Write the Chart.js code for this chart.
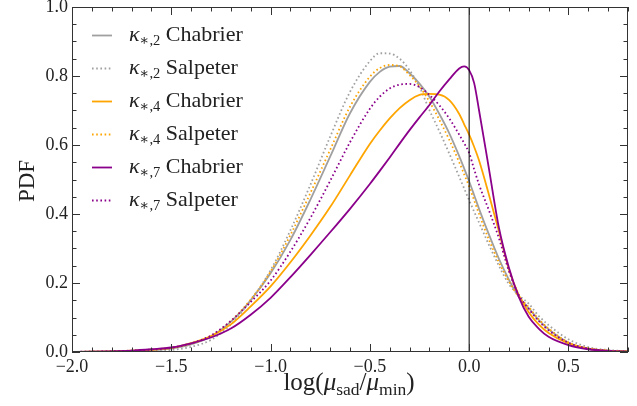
<!DOCTYPE html>
<html>
<head>
<meta charset="utf-8">
<script src="https://cdn.jsdelivr.net/npm/chart.js@4.4.1/dist/chart.umd.min.js"></script>
<style>
  html, body { margin: 0; padding: 0; background: #fff; }
  #wrap { position: relative; width: 637px; height: 406px; font-family: "Liberation Serif", "DejaVu Serif", serif; color: #222; }
  #c { position: absolute; left: 0; top: 0; }
  .leg { position: absolute; left: 129px; font-size: 22px; line-height: 24px; white-space: nowrap; }
  .leg sub { font-size: 0.66em; vertical-align: -0.3em; line-height: 0; }
  .xl sub { font-size: 0.7em; vertical-align: -0.3em; line-height: 0; }
  .xl { position: absolute; top: 368px; left: 0; width: 698px; text-align: center; font-size: 25px; line-height: 28px; white-space: nowrap; }
  .yl { position: absolute; left: 2px; top: 168px; font-size: 23px; line-height: 26px; transform: rotate(-90deg); transform-origin: center; width: 50px; text-align: center; }
</style>
</head>
<body>
<div id="wrap">
  <canvas id="c" width="637" height="406"></canvas>
  <div id="legend"></div>
  <div class="xl">log(<i>μ</i><sub>sad</sub>/<i>μ</i><sub>min</sub>)</div>
  <div class="yl">PDF</div>
</div>
<script>
// x grid of log(mu_sad/mu_min)
let xs = [-2.0, -1.9, -1.8, -1.7, -1.6, -1.5, -1.4, -1.3, -1.2, -1.1, -1.0, -0.9, -0.8, -0.7, -0.6, -0.5, -0.45, -0.4, -0.35, -0.3, -0.25, -0.2, -0.15, -0.1, -0.05, -0.025, 0, 0.025, 0.05, 0.1, 0.15, 0.2, 0.25, 0.3, 0.35, 0.4, 0.5, 0.6, 0.7, 0.8];

let k2Chabrier = [0.0005, 0.001, 0.0015, 0.003, 0.005, 0.01, 0.022, 0.045, 0.088, 0.15, 0.228, 0.325, 0.441, 0.566, 0.692, 0.783, 0.812, 0.827, 0.829, 0.808, 0.778, 0.74, 0.69, 0.634, 0.568, 0.532, 0.495, 0.455, 0.415, 0.34, 0.27, 0.21, 0.16, 0.127, 0.093, 0.066, 0.027, 0.009, 0.004, 0.001];
let k2Salpeter = [0.0002, 0.0004, 0.0008, 0.0015, 0.003, 0.006, 0.015, 0.035, 0.08, 0.15, 0.237, 0.353, 0.484, 0.624, 0.754, 0.843, 0.866, 0.865, 0.85, 0.817, 0.768, 0.701, 0.64, 0.575, 0.508, 0.474, 0.44, 0.407, 0.375, 0.31, 0.25, 0.197, 0.165, 0.14, 0.105, 0.078, 0.037, 0.014, 0.006, 0.002];
let k4Chabrier = [0.0005, 0.001, 0.002, 0.004, 0.007, 0.012, 0.026, 0.046, 0.08, 0.132, 0.19, 0.26, 0.337, 0.42, 0.512, 0.603, 0.642, 0.677, 0.707, 0.73, 0.745, 0.748, 0.746, 0.73, 0.69, 0.66, 0.63, 0.595, 0.555, 0.455, 0.35, 0.24, 0.165, 0.115, 0.08, 0.055, 0.025, 0.01, 0.004, 0.002];
let k4Salpeter = [0.0004, 0.0008, 0.0015, 0.003, 0.006, 0.012, 0.024, 0.047, 0.09, 0.152, 0.233, 0.339, 0.46, 0.586, 0.711, 0.798, 0.823, 0.832, 0.828, 0.803, 0.77, 0.726, 0.673, 0.615, 0.55, 0.515, 0.48, 0.44, 0.4, 0.325, 0.26, 0.205, 0.16, 0.13, 0.095, 0.068, 0.028, 0.01, 0.004, 0.001];
let k7Chabrier = [0.0005, 0.001, 0.002, 0.004, 0.008, 0.013, 0.025, 0.042, 0.068, 0.108, 0.157, 0.217, 0.281, 0.347, 0.415, 0.487, 0.525, 0.564, 0.604, 0.643, 0.68, 0.716, 0.755, 0.79, 0.822, 0.828, 0.817, 0.78, 0.7, 0.53, 0.36, 0.245, 0.16, 0.102, 0.068, 0.044, 0.02, 0.008, 0.003, 0.001];
let k7Salpeter = [0.0005, 0.001, 0.002, 0.004, 0.007, 0.012, 0.025, 0.048, 0.09, 0.145, 0.207, 0.291, 0.388, 0.496, 0.608, 0.705, 0.74, 0.764, 0.775, 0.777, 0.768, 0.745, 0.715, 0.677, 0.63, 0.605, 0.577, 0.53, 0.485, 0.41, 0.33, 0.235, 0.165, 0.125, 0.09, 0.063, 0.027, 0.01, 0.004, 0.001];

let xTicks = [-2.0, -1.5, -1.0, -0.5, 0.0, 0.5];
let yTicks = [0.0, 0.2, 0.4, 0.6, 0.8, 1.0];
let vline = 0.0;

let series = [
  { label: ["κ", "∗,2", "Chabrier"], data: k2Chabrier, color: "#a0a0a0", dotted: false },
  { label: ["κ", "∗,2", "Salpeter"], data: k2Salpeter, color: "#a0a0a0", dotted: true },
  { label: ["κ", "∗,4", "Chabrier"], data: k4Chabrier, color: "#ffa500", dotted: false },
  { label: ["κ", "∗,4", "Salpeter"], data: k4Salpeter, color: "#ffa500", dotted: true },
  { label: ["κ", "∗,7", "Chabrier"], data: k7Chabrier, color: "#8b008b", dotted: false },
  { label: ["κ", "∗,7", "Salpeter"], data: k7Salpeter, color: "#8b008b", dotted: true },
];

let datasets = series.map((s, i) => ({
  label: s.label.join(" "),
  data: xs.map((x, j) => ({ x: x, y: s.data[j] })),
  borderColor: s.color,
  borderWidth: 1.8,
  borderDash: s.dotted ? [1.6, 2.6] : [],
  pointRadius: 0,
  cubicInterpolationMode: "monotone",
  fill: false,
  order: 6 - i,
}));
datasets.push({
  label: "x=0",
  data: [{ x: vline, y: 0 }, { x: vline, y: 1 }],
  borderColor: "#000",
  borderWidth: 1,
  pointRadius: 0,
  order: 0,
});

// legend text as html
let legendDiv = document.getElementById("legend");
series.forEach((s, i) => {
  let d = document.createElement("div");
  d.className = "leg";
  d.style.top = (35 + 33 * i - 13) + "px";
  d.innerHTML = "<i>" + s.label[0] + "</i><sub>" + s.label[1] + "</sub> " + s.label[2];
  legendDiv.appendChild(d);
});

let frameTicks = {
  id: "frameTicks",
  afterDatasetsDraw(chart) {
    let ctx = chart.ctx;
    let a = chart.chartArea;
    let xs_ = chart.scales.x, ys_ = chart.scales.y;
    ctx.save();
    ctx.strokeStyle = "#333";
    ctx.lineWidth = 1;
    ctx.strokeRect(Math.round(a.left) + 0.5, Math.round(a.top) + 0.5, Math.round(a.right - a.left) - 1, Math.round(a.bottom - a.top) - 1);
    ctx.beginPath();
    for (let k = 0; k <= 28; k++) {
      let v = -2.0 + k * 0.1;
      let major = k % 5 === 0;
      let len = major ? 8 : 4.5;
      let px = Math.round(xs_.getPixelForValue(v)) + 0.5;
      ctx.moveTo(px, a.bottom); ctx.lineTo(px, a.bottom - len);
      ctx.moveTo(px, a.top); ctx.lineTo(px, a.top + len);
    }
    for (let k = 0; k <= 20; k++) {
      let v = k * 0.05;
      let major = k % 4 === 0;
      let len = major ? 8 : 4.5;
      let py = Math.round(ys_.getPixelForValue(v)) + 0.5;
      ctx.moveTo(a.left, py); ctx.lineTo(a.left + len, py);
      ctx.moveTo(a.right, py); ctx.lineTo(a.right - len, py);
    }
    ctx.stroke();
    // legend sample lines
    series.forEach((s, i) => {
      let y = 35 + 33 * i + 0.5;
      ctx.beginPath();
      ctx.strokeStyle = s.color;
      ctx.lineWidth = 1.8;
      ctx.setLineDash(s.dotted ? [1.6, 2.6] : []);
      ctx.moveTo(92, y); ctx.lineTo(112, y);
      ctx.stroke();
    });
    ctx.restore();
  },
};

function fmt(v) {
  return v.toFixed(1).replace("-", "\u2212");
}

new Chart(document.getElementById("c"), {
  type: "line",
  data: { datasets: datasets },
  options: {
    responsive: false,
    animation: false,
    devicePixelRatio: 1,
    layout: { padding: { left: 0, right: 9, top: 7, bottom: 0 } },
    plugins: { legend: { display: false }, tooltip: { enabled: false } },
    scales: {
      x: {
        type: "linear",
        min: -2.0,
        max: 0.8,
        grid: { display: false, drawTicks: false },
        border: { display: false },
        afterBuildTicks: (s) => { s.ticks = xTicks.map((v) => ({ value: v })); },
        afterFit: (s) => { s.height = 54; s.paddingLeft = 0; s.paddingRight = 0; },
        ticks: { padding: 4, color: "#222", font: { family: "Liberation Serif", size: 18 }, callback: (v) => fmt(v) },
      },
      y: {
        type: "linear",
        min: 0,
        max: 1,
        grid: { display: false, drawTicks: false },
        border: { display: false },
        afterBuildTicks: (s) => { s.ticks = yTicks.map((v) => ({ value: v })); },
        afterFit: (s) => { s.width = 72; s.paddingTop = 0; s.paddingBottom = 0; },
        ticks: { padding: 4, color: "#222", font: { family: "Liberation Serif", size: 18 }, callback: (v) => fmt(v) },
      },
    },
  },
  plugins: [frameTicks],
});
</script>
</body>
</html>
